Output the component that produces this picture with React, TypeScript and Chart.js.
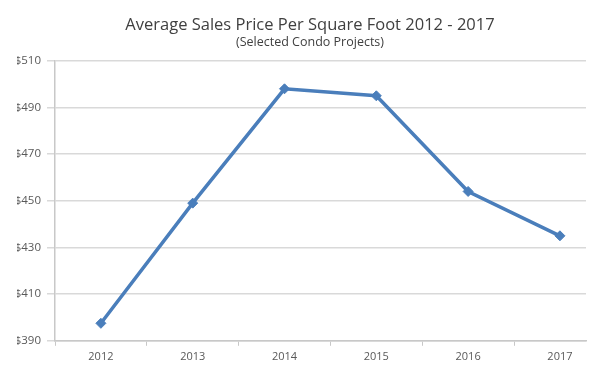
import React, { useEffect, useRef } from "react";
import { Chart, registerables } from "chart.js";

Chart.register(...registerables);

const years = ["2012", "2013", "2014", "2015", "2016", "2017"];
const prices = [397.5, 449, 498, 495, 454, 435];
const yTicks = [390, 410, 430, 450, 470, 490, 510];

const titleText = "Average Sales Price Per Square Foot 2012 - 2017";
const subtitleText = "(Selected Condo Projects)";

export default function App() {
  const ref = useRef<HTMLCanvasElement | null>(null);

  useEffect(() => {
    if (!ref.current) return;
    const chart = new Chart(ref.current, {
      type: "line",
      data: {
        datasets: [
          {
            data: years.map((_, i) => ({ x: i, y: prices[i] })),
            borderColor: "#4a7ebb",
            backgroundColor: "#4a7ebb",
            borderWidth: 3.5,
            pointStyle: "rectRot",
            pointRadius: 5,
            pointBorderWidth: 1,
            tension: 0,
          },
        ],
      },
      options: {
        animation: false,
        responsive: false,
        maintainAspectRatio: false,
        layout: { padding: { left: 17, right: 17, top: 0, bottom: 9 } },
        plugins: {
          legend: { display: false },
          tooltip: { enabled: false },
          title: {
            display: true,
            text: titleText,
            color: "#404040",
            font: { family: "'Open Sans'", size: 16.5, weight: "normal" },
            padding: { top: 15, bottom: 0 },
          },
          subtitle: {
            display: true,
            text: subtitleText,
            color: "#404040",
            font: { family: "'Open Sans'", size: 12.5, weight: "normal" },
            padding: { top: 0, bottom: 11 },
          },
        },
        scales: {
          x: {
            type: "linear",
            min: -0.5,
            max: 5.284,
            afterBuildTicks: (scale: any) => {
              scale.ticks = years.map((_, i) => ({ value: i }));
            },
            ticks: {
              autoSkip: false,
              maxRotation: 0,
              padding: 4,
              color: "#595959",
              font: { family: "'Open Sans'", size: 11 },
              callback: (v: any) => years[v as number] ?? "",
            },
            grid: {
              offset: true,
              drawOnChartArea: false,
              drawTicks: true,
              tickLength: 5,
              color: "#c8c8c8",
            },
            border: { color: "#c8c8c8", width: 1.5 },
          },
          y: {
            min: 390,
            max: 510,
            afterBuildTicks: (scale: any) => {
              scale.ticks = yTicks.map((v) => ({ value: v }));
            },
            afterFit: (scale: any) => {
              scale.width = 38;
            },
            ticks: {
              padding: 6,
              color: "#595959",
              font: { family: "'Open Sans'", size: 11.5 },
              callback: (v: any) => "$" + v,
            },
            grid: {
              color: "#d9d9d9",
              lineWidth: 1.5,
              tickLength: 8,
            },
            border: { color: "#c8c8c8", width: 1.5 },
          },
          yRight: {
            position: "right",
            display: true,
            min: 390,
            max: 510,
            afterFit: (scale: any) => {
              scale.width = 17;
            },
            ticks: { display: false },
            grid: { display: false, drawTicks: false },
            border: { display: false },
          },
        },
      },
    });
    return () => chart.destroy();
  }, []);

  return (
    <div
      style={{
        position: "fixed",
        left: 0,
        top: 0,
        width: 600,
        height: 376,
        overflow: "hidden",
        background: "#ffffff",
      }}
    >
      <canvas ref={ref} width={620} height={376} style={{ display: "block" }} />
    </div>
  );
}
